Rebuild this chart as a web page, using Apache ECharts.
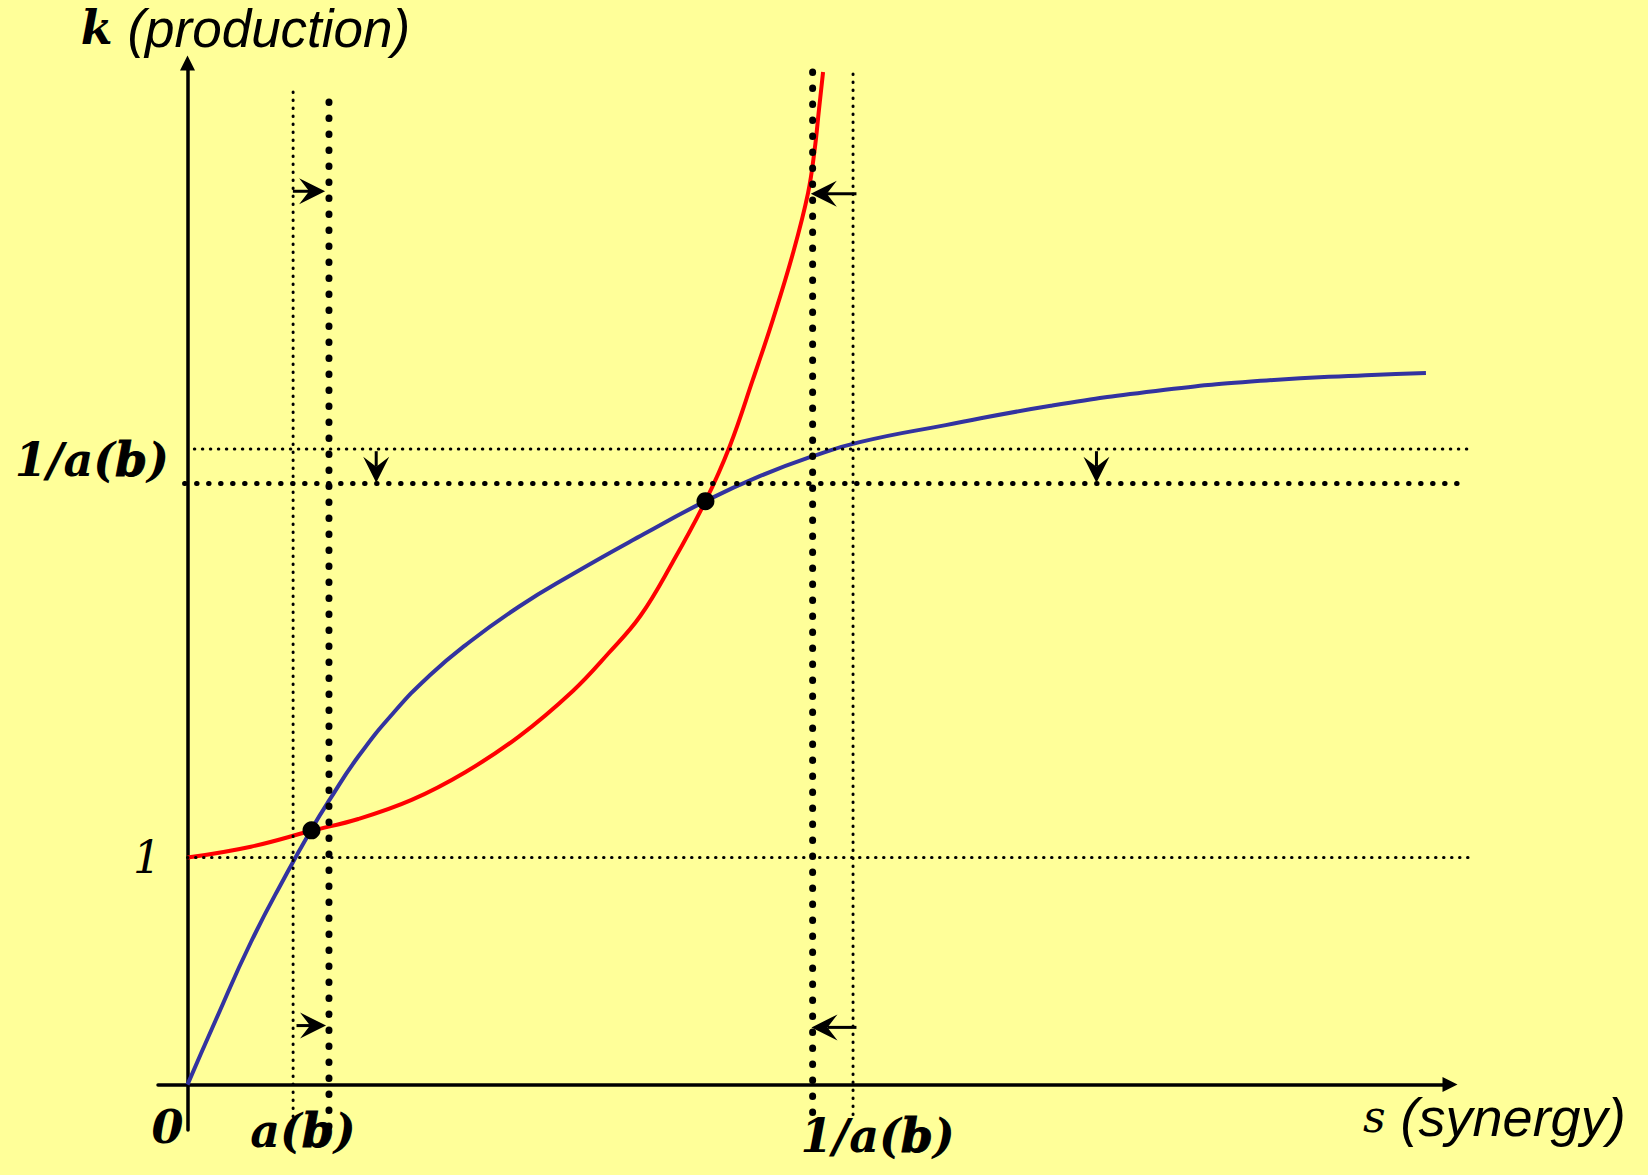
<!DOCTYPE html>
<html>
<head>
<meta charset="utf-8">
<title>Production and synergy</title>
<style>
  html, body { margin: 0; padding: 0; background: #ffff99; }
  #chart { width: 1648px; height: 1175px; }
</style>
<script src="https://cdn.jsdelivr.net/npm/echarts@6/dist/echarts.min.js"></script>
</head>
<body>
<div id="chart"></div>
<script>
// ---- axis ranges (s = synergy, k = production) ----
const sMin = -0.13, sMax = 5.56;
const kMin = -0.2, kMax = 4.5;

// ---- production curve (blue) ----
const blueS = [0, 0.122, 0.279, 0.437, 0.546, 0.626, 0.752, 0.909, 1.066, 1.223, 1.459, 1.695,
               2.010, 2.281, 2.520, 2.755, 2.960, 3.339, 3.802, 4.264, 4.727, 5.189, 5.454];
const blueK = [0, 0.279, 0.627, 0.930, 1.125, 1.255, 1.445, 1.640, 1.802, 1.935, 2.105, 2.248,
               2.425, 2.570, 2.680, 2.768, 2.830, 2.905, 2.990, 3.055, 3.100, 3.125, 3.135];

// ---- synergy requirement curve (red) ----
const redS = [0, 0.279, 0.546, 0.752, 0.987, 1.223, 1.459, 1.696, 1.853, 1.994, 2.136, 2.281,
              2.388, 2.490, 2.578, 2.667, 2.733, 2.762, 2.781, 2.799];
const redK = [1.0, 1.048, 1.118, 1.170, 1.254, 1.376, 1.533, 1.733, 1.899, 2.064, 2.300, 2.570,
              2.812, 3.106, 3.370, 3.664, 3.928, 4.119, 4.295, 4.460];

// ---- equilibria (intersections) ----
const eqS = [0.546, 2.281];
const eqK = [1.120, 2.570];

// ---- guide levels ----
const aThin = 0.465, aThick = 0.623;        // a(b) before / after
const invThin = 2.931, invThick = 2.753;    // 1/a(b) on s axis, before / after
const kOne = 1.0;
const kInvThin = 2.80, kInvThick = 2.648;   // 1/a(b) on k axis, before / after

// vertical guides: [s, kFrom, kTo]
const vThin = [[aThin, -0.141, 4.392], [invThin, -0.132, 4.454]];
const vThick = [[aThick, -0.185, 4.396], [invThick, -0.123, 4.46]];
// horizontal guides: [k, sFrom, sTo]
const hThin = [[kOne, 0.0, 5.64], [kInvThin, 0.03, 5.65]];
const hThick = [[kInvThick, -0.013, 5.60]];

// ---- shift arrows: [sTail, kTail, sTip, kTip] ----
const arrows = [
  [0.464, 3.935, 0.606, 3.935],
  [0.480, 0.260, 0.610, 0.260],
  [2.946, 3.924, 2.745, 3.924],
  [2.946, 0.252, 2.748, 0.252],
  [0.831, 2.790, 0.831, 2.651],
  [4.003, 2.790, 4.003, 2.651]
];

// ---- tick labels ----
const sLabelAt = [0, (aThin + aThick) / 2, invThin];
const sTickLabels = ['0', 'a(b)', '1/a(b)'];
const kLabelAt = [kOne, (kInvThin + kInvThick) / 2];
const kTickLabels = ['1', '1/a(b)'];

// ---- text styles ----
const MATH = "'DejaVu Serif', serif";
const SANS = "'Liberation Sans', Arial, sans-serif";
const boldMath = { fontFamily: MATH, fontStyle: 'italic', fontWeight: 'bold', fontSize: 46, color: '#000' };
const plainMath = { fontFamily: MATH, fontStyle: 'italic', fontWeight: 'normal', fontSize: 44, color: '#000' };
const boldSym = { fontFamily: MATH, fontStyle: 'italic', fontWeight: 'bold', fontSize: 46, color: '#000',
                  textBorderColor: '#000', textBorderWidth: 1 };

// per-label placement tweaks relative to the tick
const sLabelLayout = [{ lh: 46, padR: 40 }, { lh: 54, padR: 16 }, { lh: 64, padL: 49 }];
const kLabelLayout = [{ lh: 46, padR: 8, plain: true }, { lh: 46, padB: 12 }];

function buildLabels(key, labels, layout) {
  const rich = {};
  const texts = labels.map((label, i) => {
    const parts = label.split(/(b)/).filter(Boolean);
    const lay = layout[i];
    return parts.map((p, j) => {
      const name = key + i + '_' + j;
      const base = p === 'b' ? boldSym : (lay.plain ? plainMath : boldMath);
      const pad = [0, j === parts.length - 1 ? (lay.padR || 0) : 0, lay.padB || 0, j === 0 ? (lay.padL || 0) : 0];
      rich[name] = Object.assign({}, base, { lineHeight: lay.lh, padding: pad });
      return '{' + name + '|' + p + '}';
    }).join('');
  });
  return { rich, texts };
}
const sLab = buildLabels('s', sTickLabels, sLabelLayout);
const kLab = buildLabels('k', kTickLabels, kLabelLayout);

function pickLabel(at, texts) {
  return function (v) {
    const i = at.findIndex(a => Math.abs(a - v) < 1e-9);
    return i >= 0 ? texts[i] : '';
  };
}

const zip = (xs, ys) => xs.map((x, i) => [x, ys[i]]);

// dotted guide segments drawn through the axes' scales
function guides(rows, width, gap) {
  return {
    type: 'custom', data: rows, z: 3, animation: false, silent: true, clip: false,
    encode: { x: [0, 2], y: [1, 3] },
    renderItem: function (params, api) {
      const p0 = api.coord([api.value(0), api.value(1)]);
      const p1 = api.coord([api.value(2), api.value(3)]);
      return {
        type: 'line',
        shape: { x1: p0[0], y1: p0[1], x2: p1[0], y2: p1[1] },
        style: { stroke: '#000', lineWidth: width, lineDash: [0.5, gap], lineCap: 'round' }
      };
    }
  };
}

const series = [];
// curves
series.push({
  type: 'line', name: 'red', data: zip(redS, redK), smooth: 0.4, symbol: 'none', showSymbol: false,
  lineStyle: { color: '#ff0000', width: 4 }, z: 2, animation: false, clip: false
});
series.push({
  type: 'line', name: 'blue', data: zip(blueS, blueK), smooth: 0.5, symbol: 'none', showSymbol: false,
  lineStyle: { color: '#3333a0', width: 4 }, z: 2, animation: false, clip: false
});
// dotted guides
series.push(guides(vThin.map(([s, k0, k1]) => [s, k0, s, k1]), 3, 7.5));
series.push(guides(vThick.map(([s, k0, k1]) => [s, k0, s, k1]), 7, 15.5));
series.push(guides(hThin.map(([k, s0, s1]) => [s0, k, s1, k]), 3, 7.5));
series.push(guides(hThick.map(([k, s0, s1]) => [s0, k, s1, k]), 5, 11.5));
// arrows
series.push({
  type: 'custom', data: arrows, z: 4, animation: false, silent: true, clip: false,
  encode: { x: [0, 2], y: [1, 3] },
  renderItem: function (params, api) {
    const p0 = api.coord([api.value(0), api.value(1)]);
    const p1 = api.coord([api.value(2), api.value(3)]);
    const dx = p1[0] - p0[0], dy = p1[1] - p0[1];
    const len = Math.hypot(dx, dy) || 1;
    const ux = dx / len, uy = dy / len, nx = -uy, ny = ux;
    const L = 26, W = 13, N = 16;
    const bx = p1[0] - ux * L, by = p1[1] - uy * L;
    const notch = [p1[0] - ux * N, p1[1] - uy * N];
    return {
      type: 'group',
      children: [
        { type: 'line', shape: { x1: p0[0], y1: p0[1], x2: notch[0], y2: notch[1] },
          style: { stroke: '#000', lineWidth: 3 } },
        { type: 'polygon',
          shape: { points: [p1, [bx + nx * W, by + ny * W], notch, [bx - nx * W, by - ny * W]] },
          style: { fill: '#000' } }
      ]
    };
  }
});
// equilibrium points
series.push({
  type: 'scatter', data: zip(eqS, eqK), symbol: 'circle', symbolSize: 18,
  itemStyle: { color: '#000', opacity: 1 }, z: 6, animation: false, silent: true
});

const chart = echarts.init(document.getElementById('chart'), null, { renderer: 'svg' });
chart.setOption({
  backgroundColor: '#ffff99',
  animation: false,
  grid: { left: 158, right: 198, top: 63, bottom: 45, containLabel: false, outerBoundsMode: 'none' },
  xAxis: {
    type: 'value', min: sMin, max: sMax,
    name: '{s|s}{t| (synergy)}',
    nameLocation: 'end', nameGap: -87, nameMoveOverlap: false,
    nameTextStyle: {
      padding: [64, 0, 0, 0],
      rich: {
        s: { fontFamily: MATH, fontStyle: 'italic', fontSize: 44, color: '#000', lineHeight: 56 },
        t: { fontFamily: SANS, fontStyle: 'italic', fontSize: 54, color: '#000', lineHeight: 56 }
      }
    },
    axisLine: { onZero: true, symbol: ['none', 'triangle'], symbolSize: [15, 15],
                lineStyle: { color: '#000', width: 3.5 } },
    axisTick: { show: false },
    splitLine: { show: false },
    axisLabel: { customValues: sLabelAt, margin: -26, formatter: pickLabel(sLabelAt, sLab.texts), rich: sLab.rich }
  },
  yAxis: {
    type: 'value', min: kMin, max: kMax,
    name: '{k|k}{t| (production)}',
    nameLocation: 'end', nameGap: 7, nameMoveOverlap: false,
    nameTextStyle: {
      padding: [0, 0, 0, 116],
      rich: {
        k: { fontFamily: MATH, fontStyle: 'italic', fontWeight: 'bold', fontSize: 46, color: '#000', lineHeight: 56 },
        t: { fontFamily: SANS, fontStyle: 'italic', fontSize: 53, color: '#000', lineHeight: 56 }
      }
    },
    axisLine: { onZero: true, symbol: ['none', 'triangle'], symbolSize: [15, 15],
                lineStyle: { color: '#000', width: 3.5 } },
    axisTick: { show: false },
    splitLine: { show: false },
    axisLabel: { customValues: kLabelAt, margin: -11, formatter: pickLabel(kLabelAt, kLab.texts), rich: kLab.rich }
  },
  series: series
});
</script>
</body>
</html>
